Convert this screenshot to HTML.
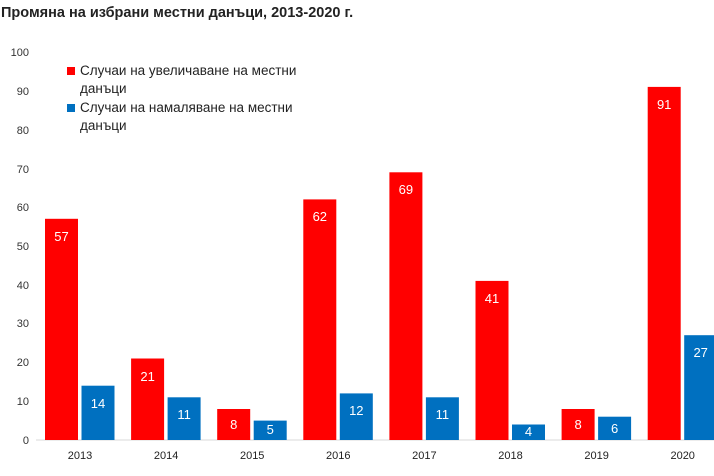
<!DOCTYPE html>
<html><head><meta charset="utf-8"><style>body{margin:0;background:#fff}svg{display:block}</style></head><body>
<svg width="714" height="476" xmlns="http://www.w3.org/2000/svg" font-family="Liberation Sans, sans-serif">
<text x="1" y="17" font-size="14.5" font-weight="bold" fill="#222">Промяна на избрани местни данъци, 2013-2020 г.</text>
<g font-size="11" fill="#333" text-anchor="end">
<text x="29" y="56">100</text><text x="29" y="95">90</text><text x="29" y="134">80</text>
<text x="29" y="173">70</text><text x="29" y="211">60</text><text x="29" y="250">50</text>
<text x="29" y="289">40</text><text x="29" y="327">30</text><text x="29" y="366">20</text>
<text x="29" y="405">10</text><text x="29" y="444">0</text>
</g>
<line x1="36" y1="440" x2="714" y2="440" stroke="#d9d9d9" stroke-width="1"/>
<g fill="#ff0000">
<rect x="45" y="218.8" width="33" height="221.2"/>
<rect x="131.1" y="358.5" width="33" height="81.5"/>
<rect x="217.2" y="409" width="33" height="31"/>
<rect x="303.3" y="199.4" width="33" height="240.6"/>
<rect x="389.4" y="172.3" width="33" height="267.7"/>
<rect x="475.5" y="280.9" width="33" height="159.1"/>
<rect x="561.6" y="409" width="33" height="31"/>
<rect x="647.7" y="86.9" width="33" height="353.1"/>
</g>
<g fill="#0070c0">
<rect x="81.5" y="385.7" width="33" height="54.3"/>
<rect x="167.6" y="397.3" width="33" height="42.7"/>
<rect x="253.7" y="420.6" width="33" height="19.4"/>
<rect x="339.8" y="393.4" width="33" height="46.6"/>
<rect x="425.9" y="397.3" width="33" height="42.7"/>
<rect x="512" y="424.5" width="33" height="15.5"/>
<rect x="598.1" y="416.7" width="33" height="23.3"/>
<rect x="684.2" y="335.2" width="33" height="104.8"/>
</g>
<g font-size="13" fill="#fff" text-anchor="middle">
<text x="61.5" y="241">57</text><text x="147.6" y="381">21</text><text x="233.7" y="429">8</text>
<text x="319.8" y="221">62</text><text x="405.9" y="194">69</text><text x="492" y="303">41</text>
<text x="578.1" y="429">8</text><text x="664.2" y="109">91</text>
<text x="98" y="408">14</text><text x="184.1" y="419">11</text><text x="270.2" y="434">5</text>
<text x="356.3" y="415">12</text><text x="442.4" y="419">11</text><text x="528.5" y="436">4</text>
<text x="614.6" y="433">6</text><text x="700.7" y="357">27</text>
</g>
<g font-size="11" fill="#222" text-anchor="middle">
<text x="80" y="459">2013</text><text x="166.1" y="459">2014</text><text x="252.2" y="459">2015</text>
<text x="338.3" y="459">2016</text><text x="424.4" y="459">2017</text><text x="510.5" y="459">2018</text>
<text x="596.6" y="459">2019</text><text x="682.7" y="459">2020</text>
</g>
<rect x="67" y="67" width="8" height="8" fill="#ff0000"/>
<rect x="67" y="104" width="8" height="8" fill="#0070c0"/>
<g font-size="13.5" fill="#222">
<text x="80" y="75">Случаи на увеличаване на местни</text>
<text x="80" y="93">данъци</text>
<text x="80" y="112">Случаи на намаляване на местни</text>
<text x="80" y="130">данъци</text>
</g>
</svg>
</body></html>
